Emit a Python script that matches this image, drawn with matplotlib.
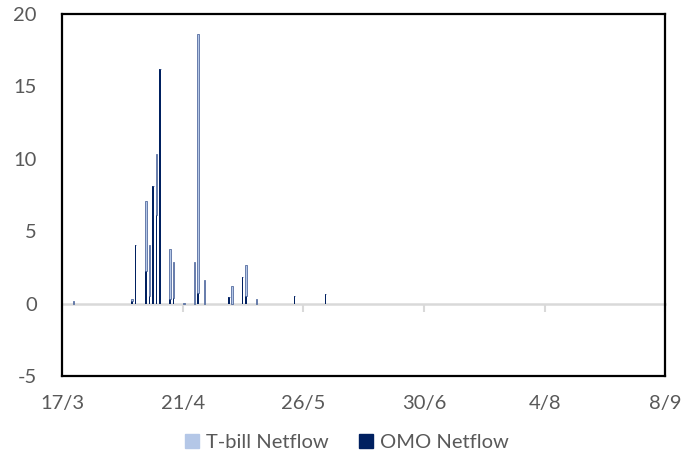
import numpy as np
import pandas as pd
import matplotlib
matplotlib.use("Agg")
import matplotlib.pyplot as plt
from matplotlib.patches import Patch

# Daily net flows (2020)
dates = ['2020-03-20', '2020-04-06', '2020-04-07', '2020-04-10', '2020-04-11',
         '2020-04-12', '2020-04-13', '2020-04-14', '2020-04-17', '2020-04-18',
         '2020-04-21', '2020-04-24', '2020-04-25', '2020-04-27', '2020-05-04',
         '2020-05-05', '2020-05-08', '2020-05-09', '2020-05-12', '2020-05-23',
         '2020-06-01']
omo = [0.0, 0.15, 4.05, 2.25, 0.5, 8.1, 6.15, 16.2, 0.3, 0.4,
       0.0, 0.0, 0.7, 0.0, 0.48, 0.0, 1.84, 0.5, 0.0, 0.52, 0.66]
tbill = [0.2, 0.15, 0.0, 4.85, 3.55, 0.0, 4.15, 0.0, 3.5, 2.45,
         0.05, 2.85, 17.9, 1.63, 0.0, 1.24, 0.0, 2.14, 0.32, 0.0, 0.0]
tick_labels = ['17/3', '21/4', '26/5', '30/6', '4/8', '8/9']
tick_dates = ['2020-03-17', '2020-04-21', '2020-05-26', '2020-06-30', '2020-08-04', '2020-09-08']

x = pd.to_datetime(dates) + pd.Timedelta(hours=9)
ticks = pd.to_datetime(tick_dates)

plt.rcParams['font.family'] = ['Lato', 'DejaVu Sans']
plt.rcParams['axes.unicode_minus'] = False
txt = '#595959'
light = '#b4c7e7'
dark = '#002060'

fig = plt.figure(figsize=(6.94, 4.61), dpi=100)
ax = fig.add_axes([0.0893, 0.1844, 0.8696, 0.7852])

w = 0.45
ax.bar(x, omo, w, color=dark, linewidth=0, zorder=3)
ax.bar(x, tbill, w, bottom=omo, color=light, edgecolor='#3a5590', linewidth=0.5, zorder=3)

ax.set_ylim(-5, 20)
ax.set_yticks([-5, 0, 5, 10, 15, 20])
ax.set_xlim(ticks[0], ticks[-1])
ax.set_xticks(ticks)
ax.set_xticklabels(tick_labels)
ax.tick_params(axis='x', length=0, pad=14, labelsize=14.5, labelcolor=txt)
ax.tick_params(axis='y', length=0, pad=18, labelsize=14.5, labelcolor=txt)
for s in ax.spines.values():
    s.set_color('black')
    s.set_linewidth(1.6)

# zero line with tick marks, like the original category axis
zero_ax = ax.secondary_xaxis(0.2)
zero_ax.set_xticks(ticks)
zero_ax.tick_params(axis='x', length=6, width=1.5, color='#d9d9d9', labelbottom=False)
zero_ax.spines['bottom'].set_color('#d9d9d9')
zero_ax.spines['bottom'].set_linewidth(1.8)

handles = [Patch(color=light, label='T-bill Netflow'), Patch(color=dark, label='OMO Netflow')]
leg = fig.legend(handles=handles, loc='center', bbox_to_anchor=(0.5, 0.04), ncol=2,
                 frameon=False, fontsize=14.5, handlelength=0.7, handleheight=0.7,
                 handletextpad=0.35, columnspacing=1.5)
for t in leg.get_texts():
    t.set_color(txt)

fig.savefig('out.png', dpi=100)
